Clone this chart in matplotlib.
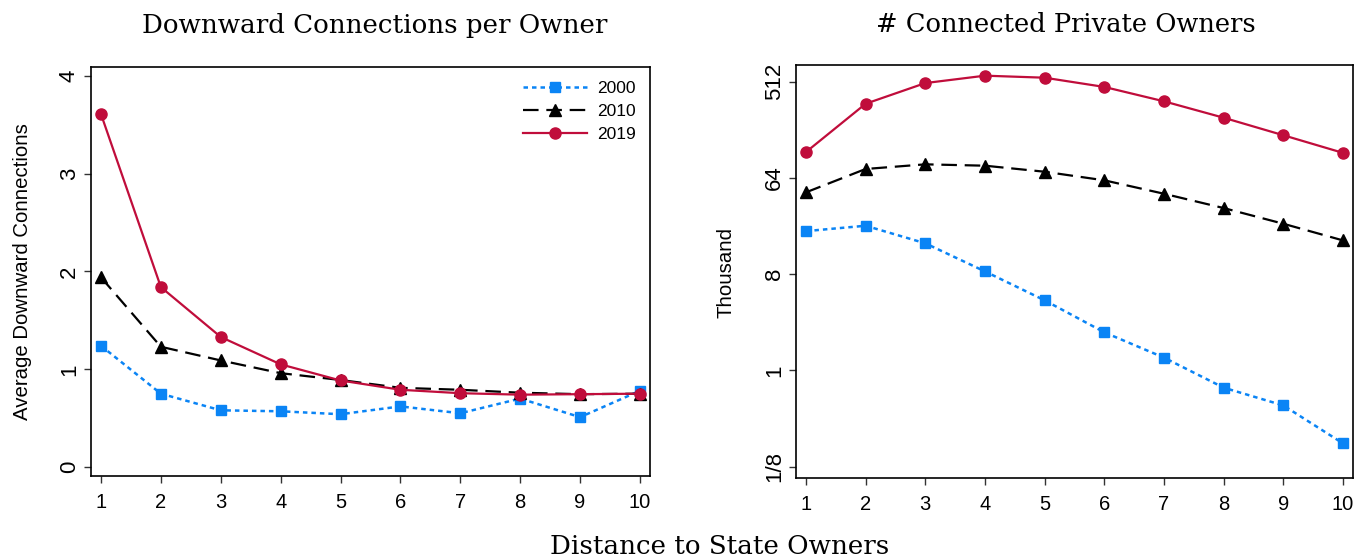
import matplotlib
matplotlib.use("Agg")
import matplotlib.pyplot as plt
import numpy as np

# ---------------- data ----------------
distance = [1, 2, 3, 4, 5, 6, 7, 8, 9, 10]
years = ["2000", "2010", "2019"]

# Left panel: average downward connections per owner
conn_2000 = [1.24, 0.75, 0.58, 0.57, 0.54, 0.62, 0.55, 0.70, 0.51, 0.78]
conn_2010 = [1.94, 1.23, 1.09, 0.96, 0.89, 0.81, 0.79, 0.76, 0.745, 0.75]
conn_2019 = [3.61, 1.84, 1.33, 1.05, 0.885, 0.79, 0.755, 0.74, 0.745, 0.75]

# Right panel: connected private owners (thousand)
own_2000 = [20.3, 22.8, 15.6, 8.5, 4.55, 2.28, 1.32, 0.69, 0.47, 0.207]
own_2010 = [46.9, 77.7, 85.9, 83.4, 73.2, 60.8, 45.5, 33.4, 23.8, 16.6]
own_2019 = [112, 318, 497, 583, 558, 457, 335, 235, 161, 110]

left_yticks = [0, 1, 2, 3, 4]
right_yticks = [1 / 8, 1, 8, 64, 512]
right_yticklabels = ["1/8", "1", "8", "64", "512"]

# ---------------- style ----------------
SANS = "Liberation Sans"
SERIF = "DejaVu Serif"
plt.rcParams["font.family"] = [SANS, "DejaVu Sans"]
plt.rcParams["font.size"] = 14.5

W, H = 1358, 560
fig = plt.figure(figsize=(W / 100, H / 100), dpi=100)

BLUE = "#0a84f5"
BLACK = "#000000"
RED = "#c00d3b"

styles = {
    "2000": dict(color=BLUE, linestyle=(0, (1.8, 1.6)), marker="s", markersize=7.5, lw=1.8),
    "2010": dict(color=BLACK, linestyle=(0, (7, 3.5)), marker="^", markersize=8.5, lw=1.6),
    "2019": dict(color=RED, linestyle="-", marker="o", markersize=8, lw=1.6),
}


def px_axes(x0, y0, x1, y1):
    return fig.add_axes([x0 / W, 1 - y1 / H, (x1 - x0) / W, (y1 - y0) / H])


def style_axes(ax):
    for s in ax.spines.values():
        s.set_linewidth(1.2)
        s.set_color("black")
    ax.set_xticks(distance)
    ax.set_xlim(0.833, 10.167)
    ax.tick_params(axis="both", direction="out", length=5, width=1.0, color="#333333")
    ax.tick_params(axis="x", pad=7, labelsize=14.5)
    ax.tick_params(axis="y", pad=3, labelrotation=90, labelsize=16)
    for lab in ax.get_yticklabels():
        lab.set_va("center")


# Left panel
ax1 = px_axes(91, 67, 650, 476)
for yr, vals in zip(years, [conn_2000, conn_2010, conn_2019]):
    ax1.plot(distance, vals, label=yr, **styles[yr])
ax1.set_ylim(-0.092, 4.092)
ax1.set_yticks(left_yticks)
style_axes(ax1)
leg = ax1.legend(loc="upper right", frameon=False, prop={"family": SANS, "size": 12.5},
                 handlelength=3.7, handletextpad=0.6, labelspacing=0.45,
                 borderaxespad=0.4, bbox_to_anchor=(1.0, 1.0))

# Right panel
ax2 = px_axes(796, 65, 1353, 478)
for yr, vals in zip(years, [own_2000, own_2010, own_2019]):
    ax2.plot(distance, vals, label=yr, **styles[yr])
ax2.set_yscale("log", base=2)
ax2.set_ylim(2 ** -3.35, 2 ** 9.52)
ax2.set_yticks(right_yticks)
ax2.set_yticklabels(right_yticklabels)
ax2.minorticks_off()
style_axes(ax2)

# Titles and labels
fig.text(375 / W, 1 - 25 / H, "Downward Connections per Owner", family=SERIF,
         fontsize=18.8, ha="center", va="center")
fig.text(1066 / W, 1 - 25 / H, "# Connected Private Owners", family=SERIF,
         fontsize=18.5, ha="center", va="center")
fig.text(720 / W, 1 - 546 / H, "Distance to State Owners", family=SERIF,
         fontsize=18.8, ha="center", va="center")
fig.text(23 / W, 1 - 272 / H, "Average Downward Connections", family=SANS,
         fontsize=14.7, ha="center", va="center", rotation=90)
fig.text(726 / W, 1 - 272 / H, "Thousand", family=SANS,
         fontsize=14.7, ha="center", va="center", rotation=90)

fig.savefig("out.png", dpi=100)
